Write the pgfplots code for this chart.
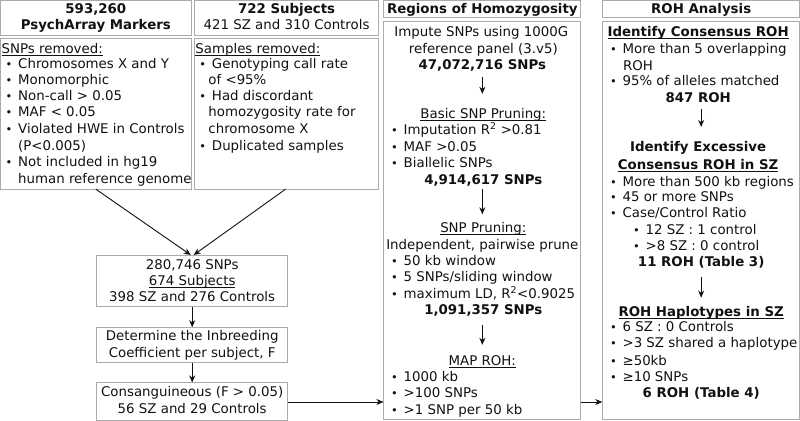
\documentclass[border=0pt]{standalone}
\usepackage{fontspec}
\setmainfont{DejaVu Sans}
\usepackage{pgfplots}
\pgfplotsset{compat=1.18}
\usetikzlibrary{arrows.meta}

\definecolor{boxgray}{HTML}{ABABAB}
\definecolor{ink}{HTML}{111111}

\tikzset{t/.style={inner sep=0pt, text=ink, font=\fontsize{13.3}{16}\selectfont}}

% underline at a fixed depth, crossing the descenders like the original
\newcommand{\ul}[1]{\setbox0\hbox{#1}\rlap{\rule[-2.3pt]{\wd0}{0.75pt}}\box0}
% left-aligned text at baseline, centred text at baseline, bullet line
\newcommand{\txl}[3]{\node[t, anchor=base west] at (axis cs:#1,#2) {#3};}
\newcommand{\txc}[3]{\node[t, anchor=base] at (axis cs:#1,#2) {#3};}
\newcommand{\bul}[3]{\node[t, anchor=base west] at (axis cs:#1,#2) {\scalebox{0.85}{\textbullet}};
  \node[t, anchor=base west] at (axis cs:#1+12.5,#2) {#3};}
\newcommand{\bx}[4]{\draw[boxgray, line width=0.9pt] (axis cs:#1,#2) rectangle (axis cs:#3,#4);}
\newcommand{\arr}[4]{\draw[ink, line width=0.9pt, -{Stealth[length=7pt,width=6pt]}] (axis cs:#1,#2) -- (axis cs:#3,#4);}

\begin{document}
\begin{tikzpicture}
\begin{axis}[
  width=800pt, height=422pt, scale only axis,
  xmin=0, xmax=800, ymin=0, ymax=422,
  y dir=reverse, hide axis, clip=false,
]
% ---- boxes
\bx{2}{2}{192}{37}
\bx{195}{2}{379}{37}
\bx{2}{40}{192}{190}
\bx{195}{40}{379}{190}
\bx{98}{256}{288}{307}
\bx{98}{328}{288}{363}
\bx{98}{383}{288}{420}
\bx{384}{2}{580}{19}
\bx{384}{23}{580}{419}
\bx{602}{2}{798}{19}
\bx{602}{23}{798}{419}

% ---- connectors
\arr{97}{190}{191.5}{255.5}
\arr{286}{190}{194.5}{255.5}
\arr{193}{307}{193}{327.5}
\arr{193}{363}{193}{382.5}
\arr{288}{402}{383.5}{402}
\arr{580}{402}{601.5}{402}
\arr{482}{78}{482}{95}
\arr{482}{190}{482}{215}
\arr{482}{325}{482}{345}
\arr{700}{110}{700}{128}
\arr{700}{277}{700}{298}

% ---- column 1
\txc{97}{15}{\bfseries 593,260}
\txc{97}{31}{\bfseries PsychArray Markers}
\txl{3}{55}{\ul{SNPs removed:}}
\bul{7}{70}{Chromosomes X and Y}
\bul{7}{86}{Monomorphic}
\bul{7}{102}{Non-call > 0.05}
\bul{7}{118}{MAF < 0.05}
\bul{7}{135}{Violated HWE in Controls}
\txl{19.5}{151}{(P<0.005)}
\bul{7}{167}{Not included in hg19}
\txl{19.5}{184}{human reference genome}

% ---- column 2
\txc{287}{15}{\bfseries 722 Subjects}
\txc{287}{31}{421 SZ and 310 Controls}
\txl{196}{55}{\ul{Samples removed:}}
\bul{200}{70}{Genotyping call rate}
\txl{209}{86}{of <95\%}
\bul{200}{102}{Had discordant}
\txl{209}{118}{homozygosity rate for}
\txl{209}{135}{chromosome X}
\bul{200}{151}{Duplicated samples}

% ---- lower left chain
\txc{193}{270}{280,746 SNPs}
\txc{193}{286}{\ul{674 Subjects}}
\txc{193}{302}{398 SZ and 276 Controls}
\txc{193}{341}{Determine the Inbreeding}
\txc{193}{358}{Coefficient per subject, F}
\txc{193}{397}{Consanguineous (F > 0.05)}
\txc{193}{413}{56 SZ and 29 Controls}

% ---- column 3
\txc{482}{15}{\bfseries Regions of Homozygosity}
\txc{481}{38}{Impute SNPs using 1000G}
\txc{483}{55}{reference panel (3.v5)}
\txc{482}{71}{\bfseries 47,072,716 SNPs}
\txc{483}{120}{\ul{Basic SNP Pruning:}}
\bul{391}{136}{Imputation R\textsuperscript{2} >0.81}
\bul{391}{152}{MAF >0.05}
\bul{391}{168}{Biallelic SNPs}
\txc{483}{185}{\bfseries 4,914,617 SNPs}
\txc{483}{233}{\ul{SNP Pruning:}}
\txc{482}{250}{Independent, pairwise prune}
\bul{391}{266}{50 kb window}
\bul{391}{282}{5 SNPs/sliding window}
\bul{391}{299}{maximum LD, R\textsuperscript{2}<0.9025}
\txc{483}{315}{\bfseries 1,091,357 SNPs}
\txc{482}{366}{\ul{MAP ROH:}}
\bul{391}{382}{1000 kb}
\bul{391}{398}{>100 SNPs}
\bul{391}{414}{>1 SNP per 50 kb}

% ---- column 4
\txc{700}{15}{\bfseries ROH Analysis}
\txc{697}{38}{\bfseries\ul{Identify Consensus ROH}}
\bul{609}{55}{More than 5 overlapping}
\txl{622}{72}{ROH}
\bul{609}{87}{95\% of alleles matched}
\txc{697}{104}{\bfseries 847 ROH}
\txc{697}{152}{\bfseries Identify Excessive}
\txc{697}{170}{\bfseries\ul{Consensus ROH in SZ}}
\bul{609}{187}{More than 500 kb regions}
\bul{609}{202}{45 or more SNPs}
\bul{609}{218}{Case/Control Ratio}
\bul{632}{235}{12 SZ : 1 control}
\bul{632}{251}{>8 SZ : 0 control}
\txc{700}{267}{\bfseries 11 ROH (Table 3)}
\txc{700}{317}{\bfseries\ul{ROH Haplotypes in SZ}}
\bul{609}{332}{6 SZ : 0 Controls}
\bul{609}{348}{>3 SZ shared a haplotype}
\bul{609}{366}{≥50kb}
\bul{609}{382}{≥10 SNPs}
\txc{700}{398}{\bfseries 6 ROH (Table 4)}
\end{axis}
\end{tikzpicture}
\end{document}
